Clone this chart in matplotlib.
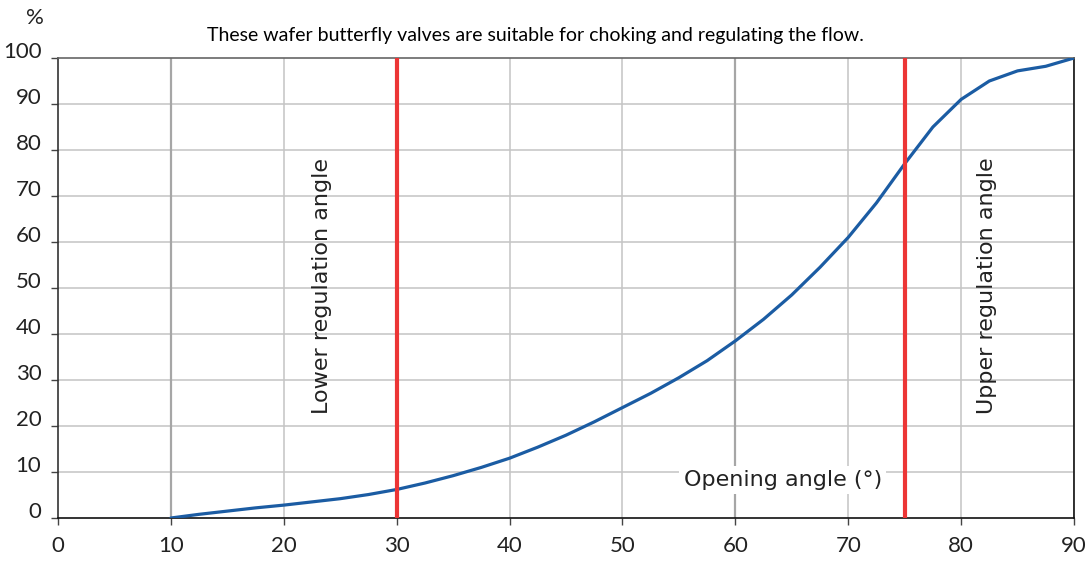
import matplotlib.pyplot as plt

# opening angle (deg) vs relative flow (%)
angle = [10, 12.5, 15, 17.5, 20, 22.5, 25, 27.5, 30, 32.5, 35, 37.5, 40, 42.5, 45,
         47.5, 50, 52.5, 55, 57.5, 60, 62.5, 65, 67.5, 70, 72.5, 75, 77.5, 80,
         82.5, 85, 87.5, 90]
flow = [0, 0.8, 1.5, 2.2, 2.8, 3.5, 4.2, 5.1, 6.2, 7.6, 9.2, 11.0, 13.0, 15.4, 18.0,
        20.9, 24.0, 27.1, 30.5, 34.2, 38.5, 43.2, 48.5, 54.5, 61.0, 68.5, 77.0, 85.0, 91.0,
        95.0, 97.2, 98.2, 100]

x_ticks = list(range(0, 100, 10))
y_ticks = list(range(0, 110, 10))
dark_grid = [10, 60]
reg_angles = [30, 75]

title = "These wafer butterfly valves are suitable for choking and regulating the flow."

plt.rcParams['font.family'] = ['Lato', 'DejaVu Sans']
ann_font = ['DejaVu Sans']

fig = plt.figure(figsize=(10.92, 5.61), dpi=100)
ax = fig.add_axes([58 / 1092, 43 / 561, (1074 - 58) / 1092, (518 - 58) / 561])

for y in y_ticks[1:-1]:
    ax.axhline(y, color='#c4c4c4', lw=1.1, zorder=1)
for x in x_ticks[1:]:
    if x in dark_grid:
        ax.axvline(x, color='#a6a6a6', lw=1.6, zorder=1)
    else:
        ax.axvline(x, color='#c4c4c4', lw=1.1, zorder=1)

ax.plot(angle, flow, color='#1b5ca3', lw=2.3, zorder=4, solid_capstyle='round')
for a in reg_angles:
    ax.axvline(a, color='#ec3535', lw=3.0, zorder=5)

ax.set_xlim(0, 90)
ax.set_ylim(0, 100)
ax.set_xticks(x_ticks)
ax.set_yticks(y_ticks)
ax.tick_params(axis='both', length=5, width=1.0, color='#444444',
               labelsize=16, labelcolor='#222222')
ax.tick_params(axis='x', pad=8)
ax.tick_params(axis='y', pad=7)
for lab in ax.get_yticklabels():
    lab.set_verticalalignment('baseline')

ax.spines['top'].set_color('#666666')
ax.spines['left'].set_color('#333333')
ax.spines['right'].set_color('#111111')
ax.spines['bottom'].set_color('#111111')
for s in ax.spines.values():
    s.set_linewidth(1.2)

ax.text(64.2, 8.3, "Opening angle (°)", fontsize=16, color='#222222', family=ann_font,
        ha='center', va='center', zorder=3,
        bbox=dict(facecolor='white', edgecolor='none', pad=3))
ax.text(23.4, 50.5, "Lower regulation angle", fontsize=16, color='#222222', family=ann_font,
        rotation=90, ha='center', va='center', zorder=3)
ax.text(82.3, 50.5, "Upper regulation angle", fontsize=16, color='#222222', family=ann_font,
        rotation=90, ha='center', va='center', zorder=3)

fig.text(35 / 1092, 1 - 18 / 561, "%", fontsize=16, color='#222222', ha='center', va='center')
fig.text(535 / 1092, 1 - 35 / 561, title, fontsize=14, color='black', ha='center', va='center')

fig.savefig('out.png', dpi=100)
